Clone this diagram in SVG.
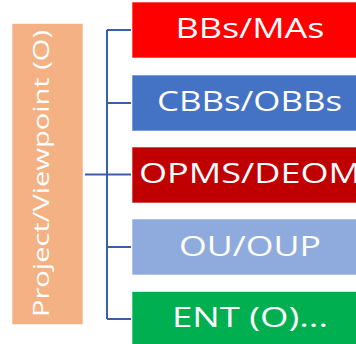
<svg xmlns="http://www.w3.org/2000/svg" width="356" height="344" viewBox="0 0 356 344">
<style>
.box{stroke:#ffffff;stroke-width:1;stroke-opacity:0.6}
.t{font-family:"Open Sans","Noto Sans",sans-serif;font-size:27px;fill:#ffffff;text-anchor:middle}
.conn{stroke:#3B5EA8;stroke-width:2;fill:none}
</style>
<rect width="356" height="344" fill="#ffffff"/>
<g id="root">
<rect class="box" x="12" y="23.5" width="71" height="301" fill="#F4B183"/>
<text transform="translate(48.5,173.5) rotate(-90)" x="0" y="0" style="font-family:'Open Sans','Noto Sans',sans-serif;font-size:22px;fill:#ffffff;text-anchor:middle" textLength="287" lengthAdjust="spacingAndGlyphs">Project/Viewpoint (O)</text>
</g>
<g id="connectors">
<path class="conn" d="M85 174.5H107M107 30V319M107 30H131M107 103H131M107 174.5H131M107 247H131M107 319H131"/>
</g>
<g id="n1">
<rect class="box" x="132" y="2" width="240" height="56" fill="#FF0000"/>
<text class="t" x="250" y="37.5" textLength="149" lengthAdjust="spacingAndGlyphs">BBs/MAs</text>
</g>
<g id="n2">
<rect class="box" x="132" y="75" width="240" height="56" fill="#4472C4"/>
<text class="t" x="249.5" y="110.5" textLength="185" lengthAdjust="spacingAndGlyphs">CBBs/OBBs</text>
</g>
<g id="n3">
<rect class="box" x="132" y="147" width="240" height="56" fill="#C00000"/>
<text class="t" x="250" y="183" textLength="222" lengthAdjust="spacingAndGlyphs">OPMS/DEOM</text>
</g>
<g id="n4">
<rect class="box" x="132" y="219" width="240" height="56" fill="#8FAADC"/>
<text class="t" x="250" y="256" textLength="142" lengthAdjust="spacingAndGlyphs">OU/OUP</text>
</g>
<g id="n5">
<rect class="box" x="132" y="291.5" width="240" height="56" fill="#00B050"/>
<text class="t" x="250" y="327" textLength="156" lengthAdjust="spacingAndGlyphs">ENT (O)...</text>
</g>
</svg>
